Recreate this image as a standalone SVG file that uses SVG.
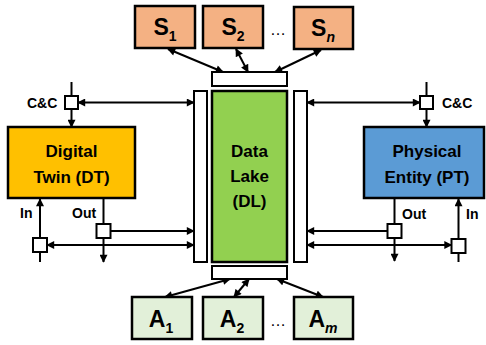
<svg xmlns="http://www.w3.org/2000/svg" width="486" height="345" viewBox="0 0 486 345">
  <style>
    .box { stroke: #000; stroke-width: 2.5; }
    .bar { fill: #fff; stroke: #000; stroke-width: 2; }
    .port { fill: #fff; stroke: #000; stroke-width: 2; }
    .ln { fill: none; stroke: #000; stroke-width: 2; }
    .lbl { font-family: "Liberation Sans", Arial, sans-serif; font-weight: bold; fill: #000; }
    .big { font-size: 17px; text-anchor: middle; }
    .sm { font-size: 14px; }
    .sym { font-size: 23px; text-anchor: middle; }
    .dots { font-family: "Liberation Sans", Arial, sans-serif; font-size: 16px; text-anchor: middle; fill: #000; }
  </style>
  <defs>
    <marker id="ah" viewBox="0 0 10 10" refX="9" refY="5" markerWidth="9" markerHeight="8" markerUnits="userSpaceOnUse" orient="auto-start-reverse">
      <path d="M0,0 L10,5 L0,10 z" fill="#000"/>
    </marker>
  </defs>

  <rect width="486" height="345" fill="#fff"/>

  <!-- connectors (drawn first, ports cover them) -->
  <g id="connectors">
    <!-- sources to top buffer -->
    <line class="ln" x1="168" y1="49" x2="223" y2="72" marker-start="url(#ah)" marker-end="url(#ah)"/>
    <line class="ln" x1="236" y1="49" x2="248" y2="72" marker-start="url(#ah)" marker-end="url(#ah)"/>
    <line class="ln" x1="321" y1="50" x2="275" y2="72" marker-start="url(#ah)" marker-end="url(#ah)"/>
    <!-- bottom buffer to actuators -->
    <line class="ln" x1="230" y1="279" x2="165" y2="297" marker-start="url(#ah)" marker-end="url(#ah)"/>
    <line class="ln" x1="249" y1="279" x2="234" y2="297" marker-start="url(#ah)" marker-end="url(#ah)"/>
    <line class="ln" x1="277" y1="279" x2="323" y2="297" marker-start="url(#ah)" marker-end="url(#ah)"/>

    <!-- DT side -->
    <line class="ln" x1="71.5" y1="82" x2="71.5" y2="127" marker-end="url(#ah)"/>
    <line class="ln" x1="78" y1="102.5" x2="194" y2="102.5" marker-start="url(#ah)" marker-end="url(#ah)"/>
    <line class="ln" x1="40" y1="262" x2="40" y2="199" marker-end="url(#ah)"/>
    <line class="ln" x1="103.5" y1="199" x2="103.5" y2="262" marker-end="url(#ah)"/>
    <line class="ln" x1="111" y1="231" x2="194" y2="231" marker-end="url(#ah)"/>
    <line class="ln" x1="47" y1="245" x2="194" y2="245" marker-start="url(#ah)" marker-end="url(#ah)"/>

    <!-- PT side -->
    <line class="ln" x1="426.5" y1="82" x2="426.5" y2="127" marker-end="url(#ah)"/>
    <line class="ln" x1="307" y1="102.5" x2="420" y2="102.5" marker-start="url(#ah)" marker-end="url(#ah)"/>
    <line class="ln" x1="394.5" y1="199" x2="394.5" y2="261" marker-end="url(#ah)"/>
    <line class="ln" x1="458.5" y1="262" x2="458.5" y2="199" marker-end="url(#ah)"/>
    <line class="ln" x1="387.5" y1="231" x2="307" y2="231" marker-end="url(#ah)"/>
    <line class="ln" x1="307" y1="245" x2="451.5" y2="245" marker-start="url(#ah)" marker-end="url(#ah)"/>
  </g>

  <!-- sensors -->
  <g id="s1">
    <rect class="box" x="135" y="6" width="60" height="42" fill="#F4B183"/>
    <text class="lbl sym" x="165" y="35">S<tspan font-size="14" dy="6">1</tspan></text>
  </g>
  <g id="s2">
    <rect class="box" x="203" y="6" width="60" height="42" fill="#F4B183"/>
    <text class="lbl sym" x="233" y="35">S<tspan font-size="14" dy="6">2</tspan></text>
  </g>
  <text class="dots" x="278" y="35">…</text>
  <g id="sn">
    <rect class="box" x="294" y="7" width="59" height="42" fill="#F4B183"/>
    <text class="lbl sym" x="323" y="36">S<tspan font-size="14" dy="6" font-style="italic">n</tspan></text>
  </g>

  <!-- data lake with buffers -->
  <g id="dl">
    <rect class="bar" x="212" y="72" width="75" height="14"/>
    <rect class="bar" x="194" y="91" width="13" height="171"/>
    <rect class="bar" x="294" y="91" width="13" height="171"/>
    <rect class="bar" x="212" y="266" width="75" height="13"/>
    <rect class="box" x="212" y="91" width="75" height="171" fill="#92D050"/>
    <text class="lbl big" x="249.5" y="157">Data</text>
    <text class="lbl big" x="249.5" y="182">Lake</text>
    <text class="lbl big" x="249.5" y="207">(DL)</text>
  </g>

  <!-- digital twin -->
  <g id="dt">
    <rect class="box" x="8" y="127" width="127" height="71" fill="#FFC000"/>
    <text class="lbl big" x="71.5" y="157">Digital</text>
    <text class="lbl big" x="71.5" y="183">Twin (DT)</text>
    <rect class="port" x="65" y="96" width="13" height="13"/>
    <text class="lbl sm" x="27" y="108">C&amp;C</text>
    <rect class="port" x="33" y="238" width="14" height="14"/>
    <text class="lbl sm" x="20" y="218">In</text>
    <rect class="port" x="96.5" y="224" width="14" height="14"/>
    <text class="lbl sm" x="72" y="218">Out</text>
  </g>

  <!-- physical entity -->
  <g id="pt">
    <rect class="box" x="364" y="127" width="120" height="71" fill="#5B9BD5"/>
    <text class="lbl big" x="427" y="157">Physical</text>
    <text class="lbl big" x="427" y="183">Entity (PT)</text>
    <rect class="port" x="420" y="96" width="13" height="13"/>
    <text class="lbl sm" x="442" y="108">C&amp;C</text>
    <rect class="port" x="387.5" y="224" width="14" height="14"/>
    <text class="lbl sm" x="402" y="219">Out</text>
    <rect class="port" x="451.5" y="239" width="14" height="14"/>
    <text class="lbl sm" x="466" y="219">In</text>
  </g>

  <!-- actuators -->
  <g id="a1">
    <rect class="box" x="132" y="297" width="60" height="42" fill="#E2F0D9"/>
    <text class="lbl sym" x="161" y="327">A<tspan font-size="14" dy="6">1</tspan></text>
  </g>
  <g id="a2">
    <rect class="box" x="203" y="297" width="60" height="42" fill="#E2F0D9"/>
    <text class="lbl sym" x="232" y="327">A<tspan font-size="14" dy="6">2</tspan></text>
  </g>
  <text class="dots" x="278" y="326">…</text>
  <g id="am">
    <rect class="box" x="294" y="297" width="59" height="42" fill="#E2F0D9"/>
    <text class="lbl sym" x="323" y="327">A<tspan font-size="14" dy="6" font-style="italic">m</tspan></text>
  </g>
</svg>
